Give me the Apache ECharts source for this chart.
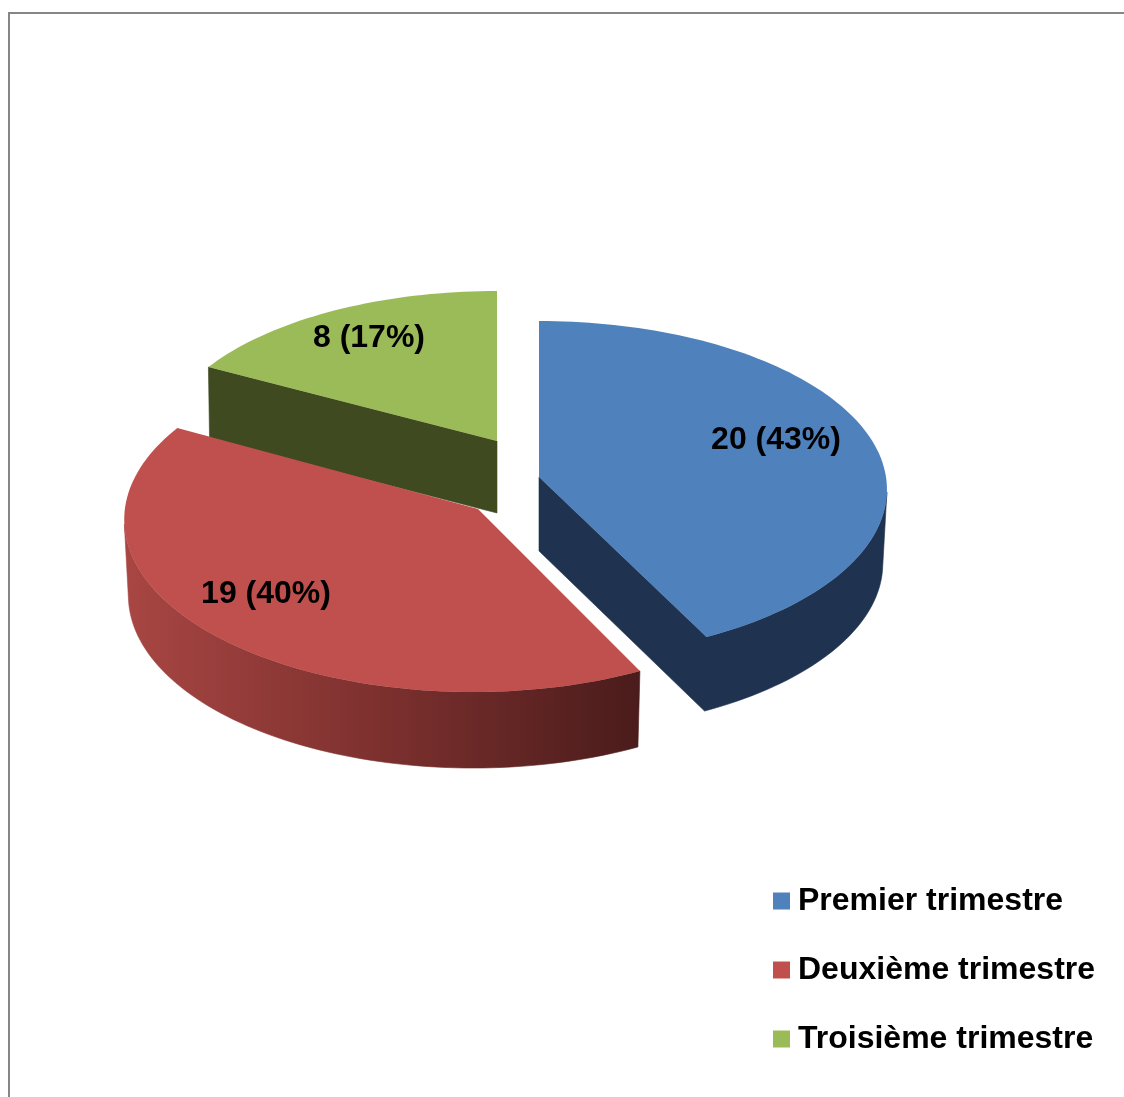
<!DOCTYPE html>
<html>
<head>
<meta charset="utf-8">
<style>html,body{margin:0;padding:0;background:#fff}#c{width:1124px;height:1097px}</style>
<script src="https://cdn.jsdelivr.net/npm/echarts@6/dist/echarts.min.js"></script>
</head>
<body>
<div id="c"></div>
<script>
// Data
const categories = ['Premier trimestre', 'Deuxième trimestre', 'Troisième trimestre'];
const values = [20, 19, 8];
const percents = [43, 40, 17];

// Style and projection of each exploded slice
const topColors = ['#4F81BD', '#C0504D', '#9BBB59'];
const looks = [
  {ax: 539, ay: 477, cx: 539, cy: 477, a: 347, b: 167.5, k: 0.074, depth: 74, shrink: 0.988, lx: 776, ly: 440,
   wall: '#1F3350', z: 3},
  {ax: 478, ay: 509, cx: 473, cy: 508, a: 348, b: 171.7, k: 0.067, depth: 76, shrink: 0.988, lx: 266, ly: 594,
   wall: {type: 'linear', x: 125, y: 0, x2: 640, y2: 0, global: true, colorStops: [
     {offset: 0, color: '#A84643'}, {offset: 0.5, color: '#7C302E'}, {offset: 1, color: '#4A1C1B'}]}, z: 2},
  {ax: 497, ay: 441, cx: 497, cy: 441, a: 337, b: 157.5, k: 0.05, depth: 72, shrink: 0.996, lx: 369, ly: 338,
   wall: '#3F4A21', z: 1}
];

const total = values.reduce((s, v) => s + v, 0);

function project(g, deg, bottom) {
  const t = deg * Math.PI / 180;
  const u = Math.sin(t), v = Math.cos(t);
  const w = 1 + g.k * v;
  const s = bottom ? g.shrink : 1;
  return [g.cx + s * g.a * u / w, g.cy - g.b * v / w + (bottom ? g.depth : 0)];
}

function arcPoints(g, from, to, bottom) {
  const pts = [];
  const n = Math.max(2, Math.ceil(Math.abs(to - from) / 1.5));
  for (let i = 0; i <= n; i++) pts.push(project(g, from + (to - from) * i / n, bottom));
  return pts;
}

function quadArea(q) {
  let s = 0;
  for (let i = 0; i < q.length; i++) {
    const p = q[i], r = q[(i + 1) % q.length];
    s += p[0] * r[1] - r[0] * p[1];
  }
  return s;
}

function makeRender(idx) {
  return function (params, api) {
    const val = api.value(0);
    let before = 0;
    for (let i = 0; i < idx; i++) before += values[i];
    const from = before / total * 360;
    const to = from + val / total * 360;
    const g = looks[idx];
    const apexTop = [g.ax, g.ay];
    const apexBot = [g.ax, g.ay + g.depth];
    const topArc = arcPoints(g, from, to, false);
    const botArc = arcPoints(g, from, to, true);
    const wallPoly = (points) => ({
      type: 'polygon', shape: {points},
      style: {fill: g.wall, stroke: g.wall, lineWidth: 0.6}
    });
    const children = [];
    const last = topArc.length - 1;
    // Radial cut face at the start of the slice, if it faces the viewer
    if (Math.sin(from * Math.PI / 180) < -0.01) {
      children.push(wallPoly([apexTop, topArc[0], botArc[0], apexBot]));
    }
    // Outer rim, front-facing run only
    const frontTop = [], frontBot = [];
    for (let i = 0; i < last; i++) {
      const area = quadArea([topArc[i], topArc[i + 1], botArc[i + 1], botArc[i]]);
      if (area < 0) {
        if (!frontTop.length) { frontTop.push(topArc[i]); frontBot.push(botArc[i]); }
        frontTop.push(topArc[i + 1]);
        frontBot.push(botArc[i + 1]);
      }
    }
    // Radial cut face at the end of the slice joins the rim in one outline
    const endVisible = Math.sin(to * Math.PI / 180) > 0.01;
    if (endVisible && frontTop.length) {
      children.push(wallPoly([apexTop].concat(frontTop.slice().reverse(), frontBot, [apexBot])));
    } else if (frontTop.length) {
      children.push(wallPoly(frontTop.concat(frontBot.slice().reverse())));
    }
    children.push({
      type: 'polygon',
      shape: {points: [apexTop].concat(topArc)},
      style: {fill: topColors[idx], stroke: null}
    });
    children.push({
      type: 'text',
      style: {
        x: g.lx, y: g.ly,
        text: val + ' (' + percents[idx] + '%)',
        fill: '#000',
        font: 'bold 32px "Liberation Sans", Arial, sans-serif',
        align: 'center', verticalAlign: 'middle'
      }
    });
    return {type: 'group', children};
  };
}

const chart = echarts.init(document.getElementById('c'), null, {renderer: 'canvas'});
chart.setOption({
  animation: false,
  backgroundColor: '#fff',
  color: topColors,
  legend: {
    data: categories,
    orient: 'vertical',
    left: 773,
    top: 885,
    itemWidth: 17,
    itemHeight: 17,
    itemGap: 37,
    icon: 'rect',
    padding: 0,
    textStyle: {
      fontFamily: '"Liberation Sans", Arial, sans-serif',
      fontWeight: 'bold',
      fontSize: 32,
      color: '#000',
      padding: [0, 0, 2, 3]
    }
  },
  graphic: [{
    type: 'polyline',
    shape: {points: [[9, 1097], [9, 13], [1124, 13]]},
    style: {stroke: '#868686', lineWidth: 2, fill: null},
    silent: true
  }],
  series: categories.map((name, i) => ({
    type: 'custom',
    name,
    coordinateSystem: 'none',
    z: looks[i].z,
    silent: true,
    renderItem: makeRender(i),
    data: [[values[i]]]
  }))
});
</script>
</body>
</html>
